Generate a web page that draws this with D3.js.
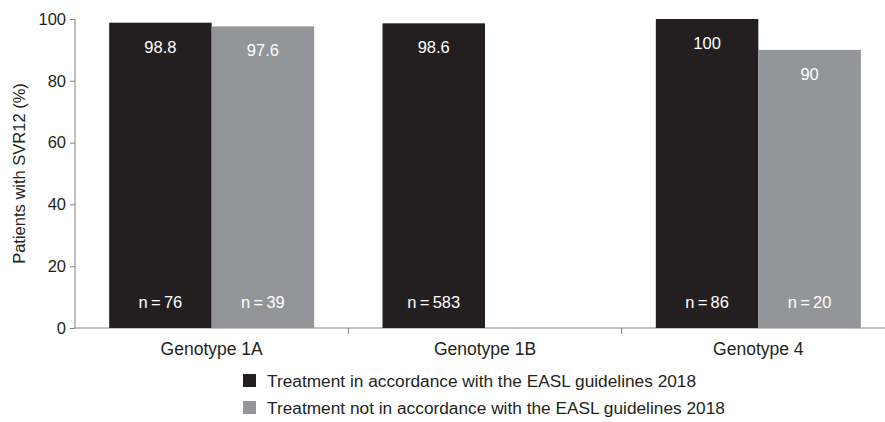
<!DOCTYPE html>
<html><head><meta charset="utf-8">
<script src="https://cdn.jsdelivr.net/npm/d3@7"></script>
<style>body{margin:0;background:#fff;} text{font-family:"Liberation Sans",Arial,sans-serif;}</style>
</head><body><svg id="c" width="885" height="422"></svg>
<script>
const categories = ["Genotype 1A","Genotype 1B","Genotype 4"];
const seriesNames = ["Treatment in accordance with the EASL guidelines 2018","Treatment not in accordance with the EASL guidelines 2018"];
const inAccordance = [98.8, 98.6, 100];
const notInAccordance = [97.6, null, 90];
const nInAccordance = [76, 583, 86];
const nNotInAccordance = [39, null, 20];
const yTicks = [0,20,40,60,80,100];
const colors = ["#231f20","#939598"];

const svg = d3.select("#c");
const x0 = d3.scaleBand().domain(categories).range([75, 895]).paddingInner(0).paddingOuter(0);
const y = d3.scaleLinear().domain([0,100]).range([328, 19]);
const groupW = 205;
const x1 = d3.scaleBand().domain([0,1]).range([0, groupW]);

// y axis
const ya = svg.append("g").attr("transform","translate(75,0)")
  .call(d3.axisLeft(y).tickValues(yTicks).tickSize(5).tickPadding(4));
ya.select(".domain").attr("stroke","#808285").attr("d","M0,"+y(100)+"V"+y(0));
ya.selectAll(".tick line").attr("stroke","#808285");
ya.selectAll(".tick text").attr("fill","#231f20").style("font-size","16.5px");

// x axis
const xa = svg.append("g").attr("transform","translate(0,328)")
  .call(d3.axisBottom(x0).tickSize(0).tickPadding(15));
xa.select(".domain").attr("stroke","#808285").attr("d","M75,0H895");
xa.selectAll(".tick text").attr("fill","#231f20").style("font-size","17.5px");
// separator ticks
svg.append("g").selectAll("line").data(categories.slice(1)).join("line")
  .attr("x1",d=>x0(d)).attr("x2",d=>x0(d)).attr("y1",328).attr("y2",334)
  .attr("stroke","#808285");

const data = [];
categories.forEach((c,i)=>{
  data.push({c, s:0, v:inAccordance[i], n:nInAccordance[i]});
  if(notInAccordance[i]!=null) data.push({c, s:1, v:notInAccordance[i], n:nNotInAccordance[i]});
});
const bx = d => x0(d.c) + (x0.bandwidth()-groupW)/2 + x1(d.s);

const g = svg.append("g");
g.selectAll("rect").data(data).join("rect")
  .attr("x",bx).attr("width",x1.bandwidth())
  .attr("y",d=>y(d.v)).attr("height",d=>y(0)-y(d.v))
  .attr("fill",d=>colors[d.s]);
g.selectAll("text.v").data(data).join("text").attr("class","v")
  .attr("x",d=>bx(d)+x1.bandwidth()/2).attr("y",d=>y(d.v)+30)
  .attr("text-anchor","middle").attr("fill","#fff").style("font-size","16.5px")
  .text(d=>String(d.v));
g.selectAll("text.n").data(data).join("text").attr("class","n")
  .attr("x",d=>bx(d)+x1.bandwidth()/2).attr("y",308)
  .attr("text-anchor","middle").attr("fill","#fff").style("font-size","16.5px")
  .text(d=>"n\u2009=\u2009"+d.n);

// y label
svg.append("text").attr("transform","translate(25,"+((y(0)+y(100))/2)+") rotate(-90)")
  .attr("text-anchor","middle").attr("fill","#231f20").style("font-size","16.5px")
  .text("Patients with SVR12 (%)");

// legend
const lg = svg.append("g").selectAll("g").data(seriesNames).join("g")
  .attr("transform",(d,i)=>"translate(243,"+(374+i*27)+")");
lg.append("rect").attr("width",13).attr("height",13).attr("fill",(d,i)=>colors[i]);
lg.append("text").attr("x",24).attr("y",12.5).attr("fill","#231f20").style("font-size","17.3px").text(d=>d);
</script></body></html>
